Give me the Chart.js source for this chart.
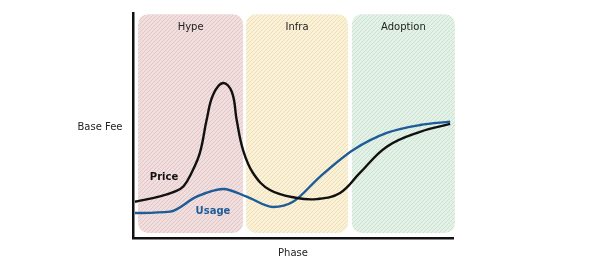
<!DOCTYPE html>
<html>
<head>
<meta charset="utf-8">
<script src="https://cdn.jsdelivr.net/npm/chart.js@4/dist/chart.umd.min.js"></script>
<style>
  html, body { margin: 0; padding: 0; background: #fff; }
  #wrap { width: 600px; height: 267px; position: relative; }
</style>
</head>
<body>
<div id="wrap"><canvas id="c"></canvas></div>
<script>
// phases along the x axis (0..100)
const phaseNames = ["Hype", "Infra", "Adoption"];
const phaseStart = [1.6, 35.3, 68.4];
const phaseEnd = [34.4, 67.2, 100.6];
const phaseFill = ["#f1dede", "#faf1d6", "#e3f1e7"];
const phaseHatch = ["#e2c6c6", "#ecdfb9", "#cbe2d3"];

// curves
const priceX = [0.6, 8.4, 13.0, 15.8, 18.3, 20.9, 23.0, 25.0, 28.1, 30.9, 32.4, 34.4, 37.5, 42.8, 51.2, 57.4, 64.7, 70.9, 79.3, 89.7, 99.1];
const priceY = [16.1, 18.5, 20.6, 23.0, 29.0, 37.8, 52.4, 63.6, 68.9, 64.9, 52.4, 39.1, 28.9, 21.3, 17.8, 17.3, 20.0, 28.9, 40.6, 47.2, 50.7];
const usageX = [0.6, 11.6, 19.9, 28.2, 35.5, 43.8, 50.0, 58.4, 68.8, 79.3, 89.7, 99.1];
const usageY = [11.1, 11.7, 18.4, 21.8, 18.4, 13.8, 16.1, 27.2, 39.1, 46.7, 50.2, 51.7];

const FONT = "'DejaVu Sans', sans-serif";
const BLUE = "#1d5c98";

function hatch(base, line) {
  const p = document.createElement("canvas");
  p.width = 4; p.height = 4;
  const g = p.getContext("2d");
  g.fillStyle = base; g.fillRect(0, 0, 4, 4);
  g.fillStyle = line;
  for (let i = 0; i < 4; i++) g.fillRect(i, 3 - i, 1, 1);
  return g.createPattern(p, "repeat");
}

const pts = (xs, ys) => xs.map((x, i) => ({ x, y: ys[i] }));

// rounded phase panels behind the curves, plus the hand-placed labels
const panels = {
  id: "panels",
  beforeDatasetsDraw(chart) {
    const { ctx, scales: { x, y } } = chart;
    ctx.save();
    for (let i = 0; i < phaseNames.length; i++) {
      const l = x.getPixelForValue(phaseStart[i]), r = x.getPixelForValue(phaseEnd[i]);
      const t = y.getPixelForValue(99.5), b = y.getPixelForValue(2.2);
      ctx.fillStyle = hatch(phaseFill[i], phaseHatch[i]);
      ctx.beginPath();
      ctx.roundRect(l, t, r - l, b - t, 10);
      ctx.fill();
      ctx.fillStyle = "#222";
      ctx.font = `10px ${FONT}`;
      ctx.textAlign = "center";
      ctx.textBaseline = "middle";
      ctx.fillText(phaseNames[i], (l + r) / 2, y.getPixelForValue(93.5));
    }
    ctx.restore();
  },
  afterDatasetsDraw(chart) {
    const { ctx, scales: { x, y } } = chart;
    ctx.save();
    ctx.textAlign = "center";
    ctx.textBaseline = "middle";
    ctx.font = `bold 10px ${FONT}`;
    ctx.fillStyle = "#111";
    ctx.fillText("Price", x.getPixelForValue(9.7), y.getPixelForValue(27.1));
    ctx.fillStyle = BLUE;
    ctx.fillText("Usage", x.getPixelForValue(25), y.getPixelForValue(11.6));
    ctx.font = `10px ${FONT}`;
    ctx.fillStyle = "#222";
    ctx.fillText("Base Fee", 100, 127);
    ctx.fillText("Phase", 293, 253);
    ctx.restore();
  },
};

new Chart(document.getElementById("c"), {
  type: "line",
  data: {
    datasets: [
      { data: pts(priceX, priceY), borderColor: "#111", borderWidth: 2.4, pointRadius: 0, tension: 0.4, fill: false },
      { data: pts(usageX, usageY), borderColor: BLUE, borderWidth: 2.4, pointRadius: 0, cubicInterpolationMode: "monotone", fill: false },
    ],
  },
  options: {
    responsive: true,
    maintainAspectRatio: false,
    animation: false,
    layout: { padding: { left: 125, right: 147, top: 13, bottom: 21 } },
    plugins: { legend: { display: false }, tooltip: { enabled: false } },
    scales: {
      x: {
        type: "linear", min: 0, max: 100,
        grid: { display: false },
        border: { display: true, color: "#111", width: 2.5 },
        ticks: { display: false },
      },
      y: {
        min: 0, max: 100,
        grid: { display: false },
        border: { display: true, color: "#111", width: 2.5 },
        ticks: { display: false },
      },
    },
  },
  plugins: [panels],
});
</script>
</body>
</html>
